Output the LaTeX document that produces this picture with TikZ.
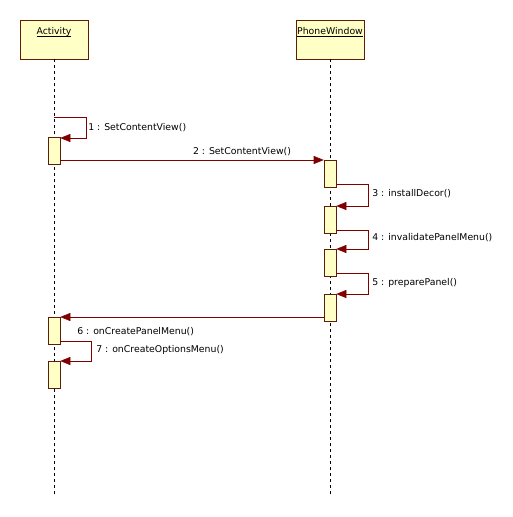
\documentclass[tikz,border=0pt]{standalone}
\usepackage{fontspec}
\setmainfont{DejaVu Sans}
\usetikzlibrary{arrows.meta,positioning}
\definecolor{barfill}{HTML}{FFFFC6}
\definecolor{barline}{HTML}{5C1E08}
\definecolor{msgred}{HTML}{800000}

\begin{document}
\begin{tikzpicture}[
  x=0.75pt, y=-0.75pt,
  every node/.style={font=\fontsize{7}{8}\selectfont},
  headbox/.style={draw=barline, fill=barfill, minimum width=51pt, minimum height=29.25pt, inner sep=0pt},
  headtext/.style={anchor=base, inner sep=0pt},
  actbar/.style={draw=barline, fill=barfill, minimum width=9pt, minimum height=20.25pt, inner sep=0pt, anchor=north},
  lifeline/.style={dash pattern=on 2.25pt off 2.25pt},
  msg/.style={draw=msgred, -{Triangle[length=7.5pt,width=6pt]}},
  msglabel/.style={anchor=west, inner sep=0pt},
]
\useasboundingbox (0,0) rectangle (512,517);

% lifeline heads
\node[headbox] (actbox) at (54,39.5) {};
\node[headtext] (acttxt) at ([yshift=-11.25pt]actbox.north) {\underline{\smash{Activity}}};
\node[headbox] (winbox) at (330,39.5) {};
\node[headtext] (wintxt) at ([yshift=-11.25pt]winbox.north) {\underline{\smash{PhoneWindow}}};

\draw[lifeline] (actbox.south) -- (actbox.south |- 0,494);
\draw[lifeline] (winbox.south) -- (winbox.south |- 0,494);

% activation bars
\foreach \n/\y in {a1/137, a2/317, a3/361}
  \node[actbar] (\n) at (54,\y) {};
\foreach \n/\y in {p1/160, p2/206, p3/249, p4/294}
  \node[actbar] (\n) at (330,\y) {};

% messages
\coordinate (m1) at (54,117);
\draw[msg] (m1) -- ++(32,0) |- ([yshift=-0.75pt]a1.north east);
\node[msglabel] (l1) at (88,128) {1 : SetContentView()};

\draw[msg] (a1.east |- p1.north) -- (p1.north west);
\node (l2) at (242,152) {2 : SetContentView()};

\draw[msg] ([yshift=2.25pt]p1.south east) -- ++(32,0) |- (p2.north east);
\node[msglabel] (l3) at (372,194) {3 : installDecor()};

\draw[msg] ([yshift=2.25pt]p2.south east) -- ++(32,0) |- (p3.north east);
\node[msglabel] (l4) at (372,238) {4 : invalidatePanelMenu()};

\draw[msg] ([yshift=2.25pt]p3.south east) -- ++(32,0) |- (p4.north east);
\node[msglabel] (l5) at (372,283) {5 : preparePanel()};

\draw[msg] (p4.west |- a2.north) -- (a2.north east);
\node[msglabel] (l6) at (77,332) {6 : onCreatePanelMenu()};

\draw[msg] ([yshift=2.25pt]a2.south east) -- ++(31,0) |- (a3.north east);
\node[msglabel] (l7) at (96,350) {7 : onCreateOptionsMenu()};
\end{tikzpicture}
\end{document}
